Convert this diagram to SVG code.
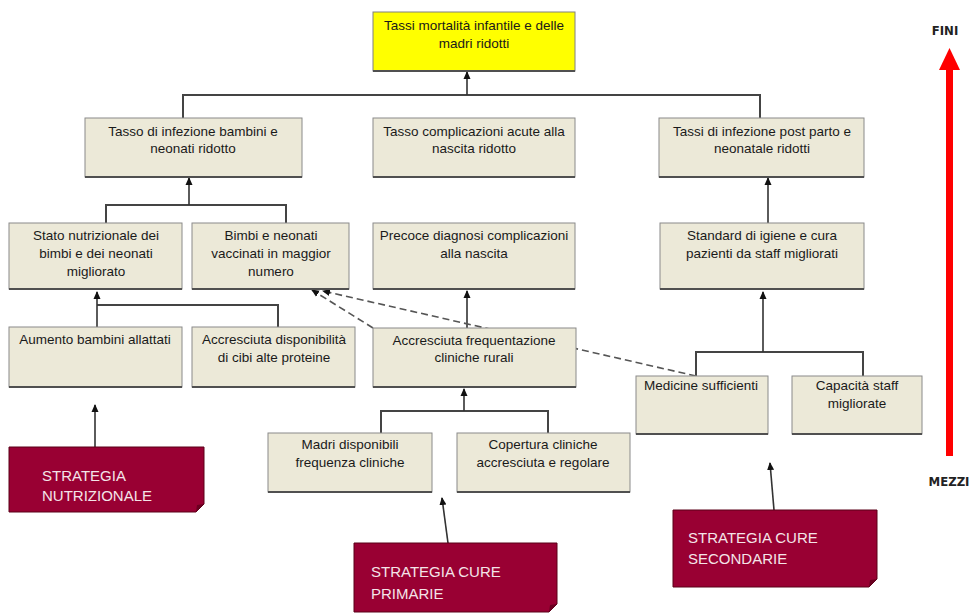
<svg xmlns="http://www.w3.org/2000/svg" width="970" height="614" viewBox="0 0 970 614">
<style>
.box{fill:#ece9d8;stroke:#8a8a8a;stroke-width:1}
.shadow{stroke:#505050;stroke-width:2;fill:none}
.goal{fill:#ffff00;stroke:#808080;stroke-width:1}
.t{font-family:"Liberation Sans",Arial,sans-serif;font-size:13.5px;fill:#1a1a1a;text-anchor:middle}
.st{font-family:"Liberation Sans",Arial,sans-serif;font-size:15px;fill:#f4e4e8}
.strat{fill:#990033;stroke:#5a0018;stroke-width:1}
.c{fill:none;stroke:#444;stroke-width:2}
.ca{fill:none;stroke:#333;stroke-width:1.6;marker-end:url(#ah)}
.d{fill:none;stroke:#555;stroke-width:1.6;stroke-dasharray:7,4;marker-end:url(#ah)}
.lab{font-family:"DejaVu Sans Condensed","DejaVu Sans",sans-serif;font-size:13px;font-weight:bold;fill:#222}
</style>
<defs>
<marker id="ah" markerUnits="userSpaceOnUse" markerWidth="8" markerHeight="8" refX="7" refY="4" orient="auto">
<path d="M0,0.5 L8,4 L0,7.5 z" fill="#111"/>
</marker>
</defs>
<rect width="970" height="614" fill="#ffffff"/>

<g id="connectors">
<path class="c" d="M183,118 V95 H760 V118"/>
<path class="ca" d="M467,95 V72"/>
<path class="c" d="M106,223 V205 H286 V223"/>
<path class="ca" d="M189,205 V178"/>
<path class="ca" d="M467,328 V291"/>
<path class="ca" d="M768,223 V178"/>
<path class="c" d="M97,305 H278 V327"/>
<path class="ca" d="M97,327 V292"/>
<path class="c" d="M696,376 V352 H863 V376"/>
<path class="ca" d="M763,352 V292"/>
<path class="c" d="M381,433 V411 H548 V433"/>
<path class="ca" d="M464,411 V389"/>
<path class="d" d="M696,376 L323,291"/>
<path class="d" d="M373,328 L312,290"/>
<path class="ca" d="M95,447 V405"/>
<path class="ca" d="M448,543 L442,498"/>
<path class="ca" d="M774,510 L770,463"/>
</g>

<g id="goal">
<rect class="goal" x="373" y="12" width="202" height="59"/>
<path class="shadow" d="M373,71 H575"/>
<text class="t" x="474" y="30">Tassi mortalità infantile e delle</text>
<text class="t" x="474" y="48">madri ridotti</text>
</g>

<g id="n-infezione-bambini">
<rect class="box" x="85" y="118" width="217" height="59"/>
<path class="shadow" d="M85,177 H302"/>
<text class="t" x="193" y="136">Tasso di infezione bambini e</text>
<text class="t" x="193" y="153">neonati ridotto</text>
</g>
<g id="n-complicazioni">
<rect class="box" x="373" y="118" width="202" height="59"/>
<path class="shadow" d="M373,177 H575"/>
<text class="t" x="474" y="136">Tasso complicazioni acute alla</text>
<text class="t" x="474" y="153">nascita ridotto</text>
</g>
<g id="n-postparto">
<rect class="box" x="659" y="118" width="205" height="59"/>
<path class="shadow" d="M659,177 H864"/>
<text class="t" x="762" y="136">Tassi di infezione post parto e</text>
<text class="t" x="762" y="153">neonatale ridotti</text>
</g>

<g id="n-stato">
<rect class="box" x="9" y="223" width="173" height="66"/>
<path class="shadow" d="M9,289 H182"/>
<text class="t" x="96" y="240">Stato nutrizionale dei</text>
<text class="t" x="96" y="258">bimbi e dei neonati</text>
<text class="t" x="96" y="276">migliorato</text>
</g>
<g id="n-vaccinati">
<rect class="box" x="192" y="223" width="157" height="66"/>
<path class="shadow" d="M192,289 H349"/>
<text class="t" x="271" y="240">Bimbi e neonati</text>
<text class="t" x="271" y="258">vaccinati in maggior</text>
<text class="t" x="271" y="276">numero</text>
</g>
<g id="n-diagnosi">
<rect class="box" x="373" y="223" width="202" height="66"/>
<path class="shadow" d="M373,289 H575"/>
<text class="t" x="474" y="240">Precoce diagnosi complicazioni</text>
<text class="t" x="474" y="258">alla nascita</text>
</g>
<g id="n-igiene">
<rect class="box" x="660" y="223" width="204" height="66"/>
<path class="shadow" d="M660,289 H864"/>
<text class="t" x="762" y="240">Standard di igiene e cura</text>
<text class="t" x="762" y="258">pazienti da staff migliorati</text>
</g>

<g id="n-allattati">
<rect class="box" x="9" y="327" width="173" height="60"/>
<path class="shadow" d="M9,387 H182"/>
<text class="t" x="95" y="344">Aumento bambini allattati</text>
</g>
<g id="n-cibi">
<rect class="box" x="192" y="327" width="163" height="60"/>
<path class="shadow" d="M192,387 H355"/>
<text class="t" x="274" y="344">Accresciuta disponibilità</text>
<text class="t" x="274" y="362">di cibi alte proteine</text>
</g>
<g id="n-frequentazione">
<rect class="box" x="373" y="328" width="203" height="59"/>
<path class="shadow" d="M373,387 H576"/>
<text class="t" x="474" y="345">Accresciuta frequentazione</text>
<text class="t" x="474" y="362">cliniche rurali</text>
</g>
<g id="n-medicine">
<rect class="box" x="636" y="376" width="132" height="58"/>
<path class="shadow" d="M636,434 H768"/>
<text class="t" x="701" y="390">Medicine sufficienti</text>
</g>
<g id="n-capacita">
<rect class="box" x="792" y="376" width="130" height="58"/>
<path class="shadow" d="M792,434 H922"/>
<text class="t" x="857" y="390">Capacità staff</text>
<text class="t" x="857" y="408">migliorate</text>
</g>

<g id="n-madri">
<rect class="box" x="268" y="433" width="164" height="59"/>
<path class="shadow" d="M268,492 H432"/>
<text class="t" x="350" y="449">Madri disponibili</text>
<text class="t" x="350" y="467">frequenza cliniche</text>
</g>
<g id="n-copertura">
<rect class="box" x="457" y="433" width="173" height="59"/>
<path class="shadow" d="M457,492 H630"/>
<text class="t" x="543" y="449">Copertura cliniche</text>
<text class="t" x="543" y="467">accresciuta e regolare</text>
</g>

<g id="s-nutrizionale">
<path class="strat" d="M9,447 H204 V504 L196,512 H9 Z"/>
<path d="M196,512 L204,504 L197,505 Z" fill="#6a0020"/>
<text class="st" x="42" y="481">STRATEGIA</text>
<text class="st" x="42" y="501" fill="#e6c6ce">NUTRIZIONALE</text>
</g>
<g id="s-primarie">
<path class="strat" d="M354,543 H557 V604 L549,612 H354 Z"/>
<path d="M549,612 L557,604 L550,605 Z" fill="#6a0020"/>
<text class="st" x="371" y="577">STRATEGIA CURE</text>
<text class="st" x="371" y="599">PRIMARIE</text>
</g>
<g id="s-secondarie">
<path class="strat" d="M673,510 H877 V579 L869,587 H673 Z"/>
<path d="M869,587 L877,579 L870,580 Z" fill="#6a0020"/>
<text class="st" x="688" y="543">STRATEGIA CURE</text>
<text class="st" x="688" y="564">SECONDARIE</text>
</g>

<g id="scale">
<rect x="946" y="68" width="7" height="388" fill="#ff0000"/>
<path d="M939,70 L949.5,48 L960,70 Z" fill="#ff0000"/>
<text class="lab" x="945" y="35" text-anchor="middle">FINI</text>
<text class="lab" x="949" y="486" text-anchor="middle">MEZZI</text>
</g>
</svg>
